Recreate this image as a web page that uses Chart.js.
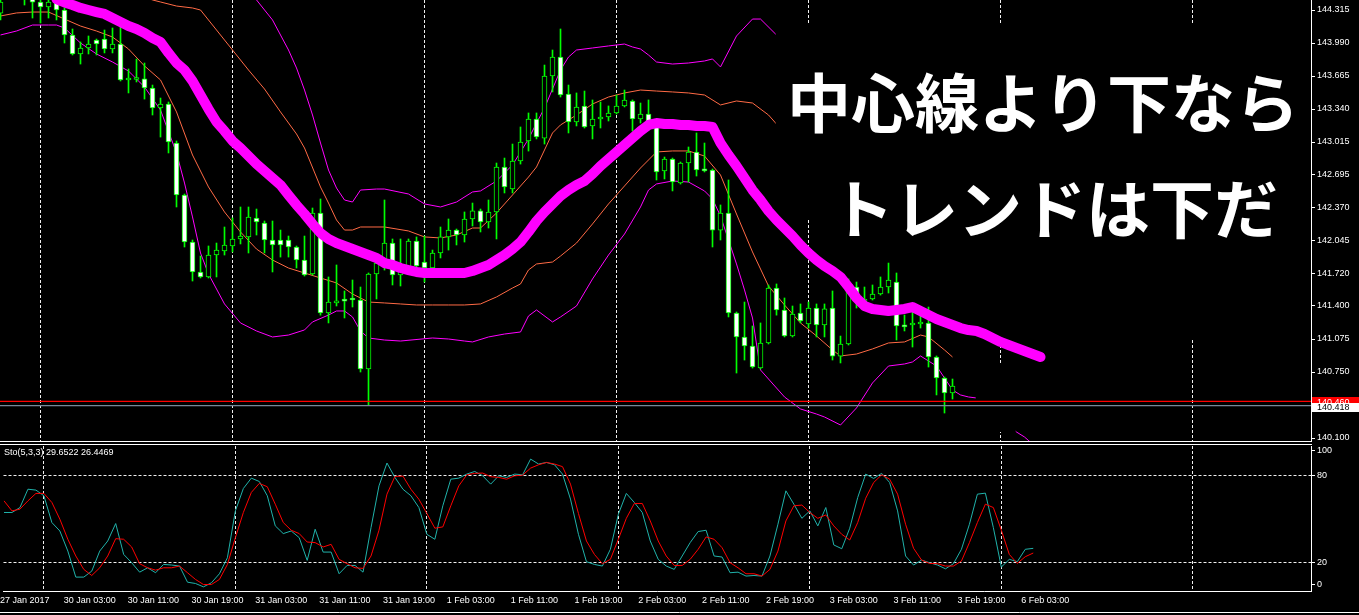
<!DOCTYPE html>
<html>
<head>
<meta charset="utf-8">
<script src="https://cdn.jsdelivr.net/npm/chart.js@4.4.1/dist/chart.umd.min.js"></script>
<style>
  html, body { margin: 0; padding: 0; background: #000; width: 1359px; height: 615px; overflow: hidden; }
  #main-wrap { position: absolute; left: 0; top: -10px; }
  #sto-wrap { position: absolute; left: 0; top: 436px; }
</style>
</head>
<body>
<div id="main-wrap"><canvas id="chart-main" width="1359" height="459"></canvas></div>
<div id="sto-wrap"><canvas id="chart-sto" width="1359" height="179"></canvas></div>
<script>
// USDJPY H1, 27 Jan 2017 19:00 .. 3 Feb 18:00 (bar index 0 = 27 Jan 19:00)
const OPEN = [
  144.285,144.520,144.580,144.492,144.443,144.394,144.345,144.394,144.315,144.069,
  143.882,143.941,144.020,144.029,143.931,143.980,143.626,143.631,143.636,143.547,
  143.350,143.389,143.005,142.493,142.030,141.735,141.686,141.902,141.942,141.991,
  142.060,142.080,142.267,142.217,142.050,142.050,142.050,141.981,141.853,141.715,
  142.316,141.331,141.430,141.469,141.479,141.459,140.780,141.715,141.823,142.020,
  141.705,141.764,142.040,141.833,141.774,141.922,142.080,142.148,142.099,142.257,
  142.336,142.227,142.326,142.769,142.552,142.828,143.025,143.242,143.054,143.665,
  143.852,143.488,143.212,143.370,143.173,143.242,143.261,143.301,143.370,143.419,
  143.242,143.291,143.183,142.730,142.848,142.611,142.808,142.917,142.739,142.739,
  142.148,142.316,141.331,141.095,141.006,140.789,141.036,141.577,141.361,141.105,
  141.331,141.223,141.380,141.213,141.380,140.907,141.026,141.587,141.439,141.469,
  141.518,141.587,141.636,141.203,141.213,141.223,141.232,140.898,140.691,140.543
];
const HIGH = [
  144.463,144.620,144.620,144.561,144.492,144.414,144.423,144.423,144.335,144.128,
  144.000,144.059,144.029,144.118,144.138,144.157,143.734,143.832,143.793,143.576,
  143.448,143.409,143.025,142.503,142.050,141.892,141.991,142.020,142.178,142.267,
  142.375,142.375,142.355,142.237,142.237,142.148,142.089,141.991,142.089,142.365,
  142.454,141.686,141.804,141.548,141.656,141.587,141.725,141.833,142.444,142.060,
  142.060,142.060,142.080,142.089,141.951,142.178,142.257,142.158,142.326,142.414,
  142.355,142.444,142.808,142.857,142.995,143.163,143.301,143.301,143.773,143.921,
  144.128,143.576,143.498,143.517,143.429,143.409,143.370,143.478,143.527,143.429,
  143.399,143.429,143.202,142.867,142.857,142.818,142.966,143.104,143.005,142.749,
  142.395,142.641,141.341,141.439,141.203,141.233,141.607,141.617,141.479,141.400,
  141.420,141.439,141.420,141.420,141.548,141.104,141.666,141.636,141.587,141.607,
  141.686,141.823,141.725,141.311,141.361,141.390,141.390,140.908,140.701,140.681
];
const LOW = [
  144.217,144.430,144.440,144.364,144.236,144.187,144.236,144.217,143.990,143.872,
  143.783,143.882,143.872,143.892,143.892,143.616,143.498,143.606,143.438,143.281,
  143.064,142.907,142.375,141.981,141.646,141.676,141.676,141.686,141.902,141.932,
  142.011,141.922,142.099,141.922,141.735,141.882,141.882,141.774,141.695,141.705,
  141.310,141.233,141.400,141.282,141.390,140.750,140.425,141.469,141.754,141.607,
  141.597,141.754,141.784,141.636,141.764,141.873,141.951,142.001,142.030,142.188,
  142.129,142.168,142.060,142.513,142.513,142.798,142.926,143.045,142.995,143.508,
  143.458,143.104,143.173,143.153,143.045,143.153,143.222,143.291,143.360,143.123,
  143.202,143.133,142.641,142.651,142.533,142.601,142.621,142.680,142.720,141.981,
  142.050,141.292,140.740,140.868,140.789,140.780,141.026,141.310,141.095,141.095,
  141.233,141.183,141.095,141.095,140.868,140.839,141.016,141.380,141.380,141.459,
  141.508,141.528,141.065,141.154,140.996,141.183,140.799,140.524,140.346,140.484
];
const CLOSE = [
  144.394,144.580,144.500,144.433,144.391,144.345,144.394,144.315,144.069,143.882,
  143.941,143.980,143.980,143.931,143.980,143.626,143.645,143.636,143.547,143.350,
  143.389,143.015,142.493,142.030,141.735,141.686,141.902,141.951,142.001,142.060,
  142.089,142.276,142.227,142.050,142.001,142.001,141.981,141.853,141.705,142.316,
  141.331,141.439,141.448,141.448,141.459,140.780,141.715,141.823,142.020,141.705,
  141.764,142.040,141.794,141.774,141.922,142.080,142.148,142.099,142.257,142.336,
  142.227,142.326,142.769,142.572,142.828,143.015,143.242,143.064,143.665,143.852,
  143.478,143.212,143.360,143.163,143.242,143.261,143.301,143.370,143.429,143.242,
  143.291,143.212,142.720,142.848,142.621,142.808,142.917,142.739,142.730,142.148,
  142.316,141.331,141.095,141.006,140.799,141.036,141.577,141.361,141.105,141.321,
  141.252,141.380,141.213,141.371,140.907,141.026,141.558,141.508,141.469,141.518,
  141.587,141.656,141.203,141.194,141.232,141.232,140.898,140.691,140.543,140.612
];

// Bollinger lines (bar index, price)
const UPPER_OUT_X = [31,32,34,36,37,38,39,40,41,42,43,44,45,47,48,51,53,55,57,59,60,62,64,66,67,68,70,71,72,74,76,78,79,80,81,82,84,86,88,89,90,92,94,95,97];
const UPPER_OUT_Y = [144.532,144.414,144.217,143.921,143.744,143.527,143.281,143.005,142.739,142.562,142.444,142.424,142.542,142.552,142.552,142.503,142.405,142.375,142.424,142.523,142.533,142.631,142.789,143.045,143.202,143.350,143.724,143.852,143.921,143.941,143.961,143.980,143.951,143.931,143.872,143.803,143.783,143.793,143.813,143.833,143.754,144.059,144.226,144.226,144.069];
const UPPER_IN_X = [18,19,20,22,24,25,27,29,31,33,35,37,38,40,41,42,43,44,45,48,51,53,55,57,59,60,62,64,66,67,69,70,72,74,76,78,80,82,84,86,88,90,92,94,96,97];
const UPPER_IN_Y = [144.443,144.414,144.394,144.354,144.335,144.315,144.118,143.921,143.724,143.537,143.311,143.094,142.956,142.572,142.414,142.247,142.148,142.148,142.178,142.178,142.139,142.080,142.070,142.099,142.168,142.168,142.316,142.493,142.670,142.769,143.104,143.183,143.281,143.389,143.458,143.498,143.527,143.517,143.508,143.498,143.478,143.380,143.419,143.399,143.281,143.192];
const LOWER_IN_X = [0,2,4,6,8,10,12,14,16,18,20,22,24,26,28,30,32,34,36,38,40,42,44,46,48,50,52,54,56,58,60,62,64,65,66,67,69,70,72,74,76,78,80,82,84,86,88,90,92,94,96,98,100,102,104,105,107,109,111,113,115,116,118,119];
const LOWER_IN_Y = [144.256,144.286,144.295,144.295,144.226,144.157,144.108,144.049,143.931,143.764,143.626,143.311,142.887,142.572,142.326,142.129,141.961,141.853,141.774,141.725,141.676,141.627,141.518,141.439,141.430,141.420,141.410,141.410,141.410,141.410,141.420,141.489,141.577,141.617,141.755,141.814,141.833,141.892,142.020,142.208,142.405,142.582,142.759,142.917,142.927,142.927,142.877,142.690,142.306,141.932,141.597,141.410,141.233,141.105,140.967,140.908,140.927,140.977,141.036,141.046,141.114,141.095,140.967,140.898];
const LOWER_OUT_X = [0,2,4,6,7,8,10,12,14,16,18,20,22,23,24,25,26,28,30,32,34,36,38,39,41,42,43,44,45,46,48,50,54,56,58,59,61,63,65,66,67,69,70,72,74,76,78,80,81,82,84,86,88,89,90,91,92,93,94,95,96,98,100,102,103,105,107,109,111,113,114,115,117,118,119,120,121,122,124,126,127,128,129];
const LOWER_OUT_Y = [144.069,144.108,144.167,144.167,144.167,144.138,143.990,143.882,143.803,143.714,143.557,143.330,142.907,142.611,142.277,141.922,141.715,141.420,141.233,141.154,141.095,141.114,141.164,141.243,141.311,141.351,141.351,141.292,141.154,141.085,141.065,141.055,141.085,141.075,141.055,141.046,141.095,141.124,141.144,141.302,141.361,141.243,141.292,141.400,141.666,141.902,142.109,142.375,142.542,142.602,142.631,142.621,142.533,142.454,142.286,142.050,141.814,141.558,141.282,140.770,140.681,140.504,140.386,140.336,140.307,140.228,140.396,140.642,140.809,140.829,140.849,140.908,140.809,140.691,140.573,140.524,140.504,140.494,140.376,140.228,140.159,140.110,140.041];

// thick centre line, one value per bar starting at MID_FROM
const MID_FROM = 7;
const MID = [
  144.423,144.389,144.364,144.335,144.315,144.295,144.276,144.236,144.197,144.157,
  144.128,144.089,144.039,144.000,143.892,143.793,143.724,143.616,143.478,143.340,
  143.212,143.123,143.025,142.956,142.877,142.798,142.730,142.661,142.592,142.493,
  142.395,142.306,142.208,142.119,142.060,142.020,141.991,141.961,141.932,141.902,
  141.873,141.823,141.804,141.774,141.754,141.735,141.725,141.725,141.725,141.725,
  141.725,141.725,141.745,141.774,141.804,141.853,141.902,141.961,142.030,142.129,
  142.237,142.326,142.405,142.483,142.542,142.592,142.631,142.700,142.779,142.848,
  142.917,142.986,143.054,143.123,143.183,143.202,143.192,143.192,143.183,143.183,
  143.173,143.173,143.163,143.005,142.887,142.779,142.661,142.542,142.444,142.336,
  142.247,142.168,142.089,142.001,141.922,141.853,141.794,141.745,141.686,141.587,
  141.479,141.400,141.371,141.361,141.351,141.361,141.371,141.390,141.351,141.311,
  141.272,141.242,141.213,141.183,141.163,141.154,141.124,141.085,141.046,141.016,
  140.987,140.957,140.927,140.898
];

const RED_LEVEL = 140.460;
const BID = 140.418;
const PRICE_TICKS = [144.315,143.990,143.665,143.340,143.015,142.695,142.370,142.045,141.720,141.400,141.075,140.750,140.100];

// Stochastic(5,3,3)
const STO_MAIN = [
  54.3,54.3,57.7,70.3,69.7,65.8,47.4,41.6,27.8,9.9,
  9.9,14.0,27.8,34.7,46.7,25.5,19.8,13.3,16.3,12.9,
  18.6,18.2,17.5,6.4,5.5,3.2,6.0,12.2,23.2,55.4,
  70.8,77.9,75.6,65.8,45.1,39.8,41.6,37.0,21.4,42.8,
  27.1,27.1,12.2,17.9,17.9,13.3,43.9,72.6,88.3,78.4,
  70.3,65.8,57.7,39.3,35.9,58.9,77.2,77.9,80.7,82.5,
  79.5,73.8,79.5,78.4,80.7,80.2,91.0,87.6,88.7,87.1,
  80.7,63.5,39.3,20.5,18.6,17.5,29.0,53.1,67.4,61.2,
  54.3,34.7,22.1,17.5,15.2,24.4,33.6,41.2,42.1,24.4,
  23.7,12.9,13.3,10.6,11.0,10.6,24.4,46.2,69.2,60.0,
  50.3,55.4,45.1,57.7,32.0,29.4,43.5,64.6,80.7,77.7,
  81.2,74.9,55.4,24.4,18.2,21.6,19.8,18.2,15.6,19.1,
  29.0,46.2,66.9,67.6,43.9,16.8,22.1,20.5,29.0,29.6522
];
const STO_SIGNAL = [
  62.3,55.4,56.6,62.3,67.4,67.4,61.2,49.7,35.9,24.4,
  15.2,11.0,16.3,24.4,36.3,35.9,30.6,19.1,16.3,14.7,
  16.3,16.3,17.5,12.9,8.3,4.8,4.8,8.3,18.6,37.0,
  54.3,68.1,74.3,72.0,60.0,47.4,42.1,39.8,34.0,33.6,
  30.6,32.4,22.1,19.1,16.3,15.9,24.4,42.1,66.9,79.1,
  79.3,70.3,63.4,53.6,43.5,44.4,58.9,72.6,80.2,81.2,
  81.4,78.9,78.4,77.2,79.5,80.0,84.8,87.1,88.7,87.6,
  85.8,73.8,53.6,34.7,25.5,19.1,22.1,35.9,50.3,60.5,
  60.5,48.5,34.7,24.4,17.9,17.9,22.1,29.0,37.5,35.9,
  30.1,19.8,16.3,12.2,12.2,10.6,15.2,27.8,48.5,58.9,
  59.4,54.3,50.3,52.6,45.1,39.3,35.4,47.4,64.1,74.9,
  80.2,77.2,66.9,46.2,29.7,21.6,19.3,19.1,17.5,17.5,
  20.9,33.6,47.4,60.0,57.7,42.1,25.5,19.3,23.9,26.4469
];
const STO_LEVELS = [20, 80];
const STO_TICKS = [97, 80, 20, 5];
const STO_TICK_TEXT = ['100', '80', '20', '0'];

const TIME_BARS = [0,8,16,24,32,40,48,56,64,72,80,88,96,104,112,120,128];
const TIME_LABELS = ['27 Jan 2017','30 Jan 03:00','30 Jan 11:00','30 Jan 19:00','31 Jan 03:00','31 Jan 11:00',
  '31 Jan 19:00','1 Feb 03:00','1 Feb 11:00','1 Feb 19:00','2 Feb 03:00','2 Feb 11:00','2 Feb 19:00',
  '3 Feb 03:00','3 Feb 11:00','3 Feb 19:00','6 Feb 03:00'];
const GRID_BARS = [5, 29, 53, 77, 101, 125, 149];

const NOTE_LINES = ['中心線より下なら', 'トレンドは下だ'];

// ---- layout / style ----
const X_MIN = -0.0625;
const X_MAX = X_MIN + 1311 / 8;
const Y_MIN = 140.0705;
const Y_MAX = 144.4135;
const AXIS_W = 48;
const FONT = '"Liberation Sans", Arial, sans-serif';
const MAGENTA = '#ff00ff';
const CORAL = '#ff6a45';
const GREEN = '#00ff00';
const GRID_COLOR = '#f0f0f0';
const DASH = [3, 2];

// pasted-over areas of the screenshot (bar index / price)
const COVERS = [
  { from: 96.9, to: X_MAX, hi: 144.177, lo: 142.257 },
  { from: 119.6, to: X_MAX, hi: 142.257, lo: 141.065 },
  { from: 121.9, to: 126.9, hi: 140.839, lo: 140.159 }
];

Chart.defaults.font.family = FONT;
Chart.defaults.font.size = 9;
Chart.defaults.color = '#ffffff';

function bandSet(label, xs, ys, color) {
  return { label, data: xs.map((x, k) => ({ x, y: ys[k] })), borderColor: color, borderWidth: 1,
           pointRadius: 0, tension: 0, order: 10 };
}

function levelSet(label, value, color) {
  return { label, data: [{ x: X_MIN, y: value }, { x: X_MAX, y: value }], borderColor: color,
           borderWidth: 1.2, pointRadius: 0, order: 3 };
}

function priceTag(ctx, y, value, bg, fg, h) {
  ctx.fillStyle = bg;
  ctx.fillRect(1312, Math.round(y - h / 2), 47, h);
  ctx.fillStyle = fg;
  ctx.font = '9px ' + FONT;
  ctx.textAlign = 'left';
  ctx.textBaseline = 'middle';
  ctx.fillText(value.toFixed(3), 1317, y);
}

const mainDecor = {
  id: 'mainDecor',
  afterDatasetDraw(chart, args) {
    if (chart.data.datasets[args.index].label !== 'bodies') return;
    const { ctx, chartArea } = chart;
    const xs = chart.scales.x, ys = chart.scales.y;
    ctx.save();
    ctx.beginPath();
    ctx.rect(chartArea.left, chartArea.top, chartArea.right - chartArea.left, chartArea.bottom - chartArea.top);
    ctx.clip();
    ctx.fillStyle = '#000';
    COVERS.forEach(c => {
      const x0 = xs.getPixelForValue(c.from), x1 = xs.getPixelForValue(c.to);
      const y0 = ys.getPixelForValue(c.hi), y1 = ys.getPixelForValue(c.lo);
      ctx.fillRect(x0, y0, x1 - x0, y1 - y0);
    });
    ctx.restore();
  },
  afterDraw(chart) {
    const { ctx, chartArea } = chart;
    const ys = chart.scales.y;
    ctx.save();
    priceTag(ctx, ys.getPixelForValue(RED_LEVEL) + 1, RED_LEVEL, '#ff0000', '#ffffff', 11);
    priceTag(ctx, ys.getPixelForValue(BID) + 1.5, BID, '#ffffff', '#000000', 9);

    ctx.fillStyle = '#ffffff';
    ctx.font = 'bold 64px "Noto Sans CJK JP"';
    ctx.textAlign = 'left';
    ctx.textBaseline = 'alphabetic';
    ctx.fillText(NOTE_LINES[0], 787, chartArea.top + 127);
    ctx.fillText(NOTE_LINES[1], 830, chartArea.top + 233);
    ctx.restore();
  }
};

const candleX = OPEN.map((o, i) => i);

new Chart(document.getElementById('chart-main'), {
  type: 'line',
  data: {
    datasets: [
      bandSet('upper-out', UPPER_OUT_X, UPPER_OUT_Y, MAGENTA),
      bandSet('upper-in', UPPER_IN_X, UPPER_IN_Y, CORAL),
      bandSet('lower-in', LOWER_IN_X, LOWER_IN_Y, CORAL),
      bandSet('lower-out', LOWER_OUT_X, LOWER_OUT_Y, MAGENTA),
      {
        label: 'wicks', type: 'bar',
        data: candleX.map(i => ({ x: i, y: [LOW[i], HIGH[i]] })),
        backgroundColor: GREEN, barThickness: 1, grouped: false, order: 9
      },
      {
        label: 'bodies', type: 'bar',
        data: candleX.map(i => ({ x: i, y: [OPEN[i], CLOSE[i]] })),
        backgroundColor: candleX.map(i => CLOSE[i] < OPEN[i] ? '#ffffff' : '#000000'),
        borderColor: GREEN, borderWidth: 1, borderSkipped: false,
        barThickness: 5, minBarLength: 2, grouped: false, order: 8
      },
      levelSet('red-level', RED_LEVEL, '#ff0000'),
      levelSet('bid', BID, '#778899'),
      {
        label: 'centre',
        data: MID.map((v, k) => ({ x: MID_FROM + k, y: v })),
        borderColor: MAGENTA, borderWidth: 10, borderCapStyle: 'round', borderJoinStyle: 'round',
        pointRadius: 0, tension: 0, order: 1
      }
    ]
  },
  options: {
    responsive: false,
    animation: false,
    events: [],
    layout: { padding: { top: 10, bottom: 0, left: 0, right: 0 } },
    plugins: { legend: { display: false }, tooltip: { enabled: false } },
    scales: {
      x: {
        type: 'linear', min: X_MIN, max: X_MAX, offset: false,
        afterBuildTicks: s => { s.ticks = GRID_BARS.map(v => ({ value: v })); },
        afterFit: s => { s.height = 8; },
        ticks: { display: false },
        grid: { color: GRID_COLOR, drawTicks: false, offset: false },
        border: { display: true, color: '#ffffff', dash: DASH }
      },
      y: {
        position: 'right', min: Y_MIN, max: Y_MAX,
        afterBuildTicks: s => { s.ticks = PRICE_TICKS.map(v => ({ value: v })); },
        afterFit: s => { s.width = AXIS_W; },
        ticks: { color: '#ffffff', padding: 2, autoSkip: false, callback: v => v.toFixed(3) },
        grid: { drawOnChartArea: false, drawTicks: true, tickLength: 4, color: '#ffffff' },
        border: { display: true, color: '#ffffff' }
      }
    }
  },
  plugins: [mainDecor]
});

const stoDecor = {
  id: 'stoDecor',
  afterDraw(chart) {
    const { ctx, chartArea } = chart;
    ctx.save();
    ctx.strokeStyle = '#ffffff';
    ctx.lineWidth = 1;
    ctx.beginPath();
    ctx.moveTo(0, chartArea.top - 1.5);
    ctx.lineTo(chartArea.right + 1, chartArea.top - 1.5);
    ctx.moveTo(0, chartArea.bottom + 21);
    ctx.lineTo(1359, chartArea.bottom + 21);
    ctx.stroke();
    ctx.fillStyle = '#ffffff';
    ctx.font = '9px ' + FONT;
    ctx.textAlign = 'left';
    ctx.textBaseline = 'middle';
    const k = STO_MAIN[STO_MAIN.length - 1], d = STO_SIGNAL[STO_SIGNAL.length - 1];
    ctx.fillText('Sto(5,3,3) ' + k.toFixed(4) + ' ' + d.toFixed(4), 4, chartArea.top + 7);
    ctx.restore();
  }
};

const stoXTicks = [...new Set([...TIME_BARS, ...GRID_BARS])].sort((a, b) => a - b);

new Chart(document.getElementById('chart-sto'), {
  type: 'line',
  data: {
    datasets: [
      {
        label: 'main', data: STO_MAIN.map((v, i) => ({ x: i, y: v })),
        borderColor: '#20b2aa', borderWidth: 1, pointRadius: 0, tension: 0, order: 2
      },
      {
        label: 'signal', data: STO_SIGNAL.map((v, i) => ({ x: i, y: v })),
        borderColor: '#ff0000', borderWidth: 1, pointRadius: 0, tension: 0, order: 1
      }
    ]
  },
  options: {
    responsive: false,
    animation: false,
    events: [],
    layout: { padding: { top: 10, bottom: 0, left: 0, right: 0 } },
    plugins: { legend: { display: false }, tooltip: { enabled: false } },
    scales: {
      x: {
        type: 'linear', min: X_MIN, max: X_MAX, offset: false,
        afterBuildTicks: s => { s.ticks = stoXTicks.map(v => ({ value: v })); },
        afterFit: s => { s.height = 23.5; },
        ticks: {
          color: '#ffffff', autoSkip: false, maxRotation: 0, minRotation: 0, align: 'start', padding: 4,
          labelOffset: -4,
          callback: v => TIME_LABELS[TIME_BARS.indexOf(v)] ?? ''
        },
        grid: { color: c => GRID_BARS.includes(c.tick.value) ? GRID_COLOR : 'transparent', drawTicks: false, offset: false },
        border: { display: true, color: '#ffffff', dash: DASH }
      },
      y: {
        position: 'right', min: 0, max: 100,
        afterBuildTicks: s => { s.ticks = STO_TICKS.map(v => ({ value: v })); },
        afterFit: s => { s.width = AXIS_W; },
        ticks: { color: '#ffffff', padding: 2, autoSkip: false, callback: v => STO_TICK_TEXT[STO_TICKS.indexOf(v)] },
        grid: {
          color: c => STO_LEVELS.includes(c.tick.value) ? GRID_COLOR : 'transparent',
          tickColor: '#ffffff', tickLength: 4
        },
        border: { display: true, color: '#ffffff', dash: DASH }
      }
    }
  },
  plugins: [stoDecor]
});
</script>
</body>
</html>
